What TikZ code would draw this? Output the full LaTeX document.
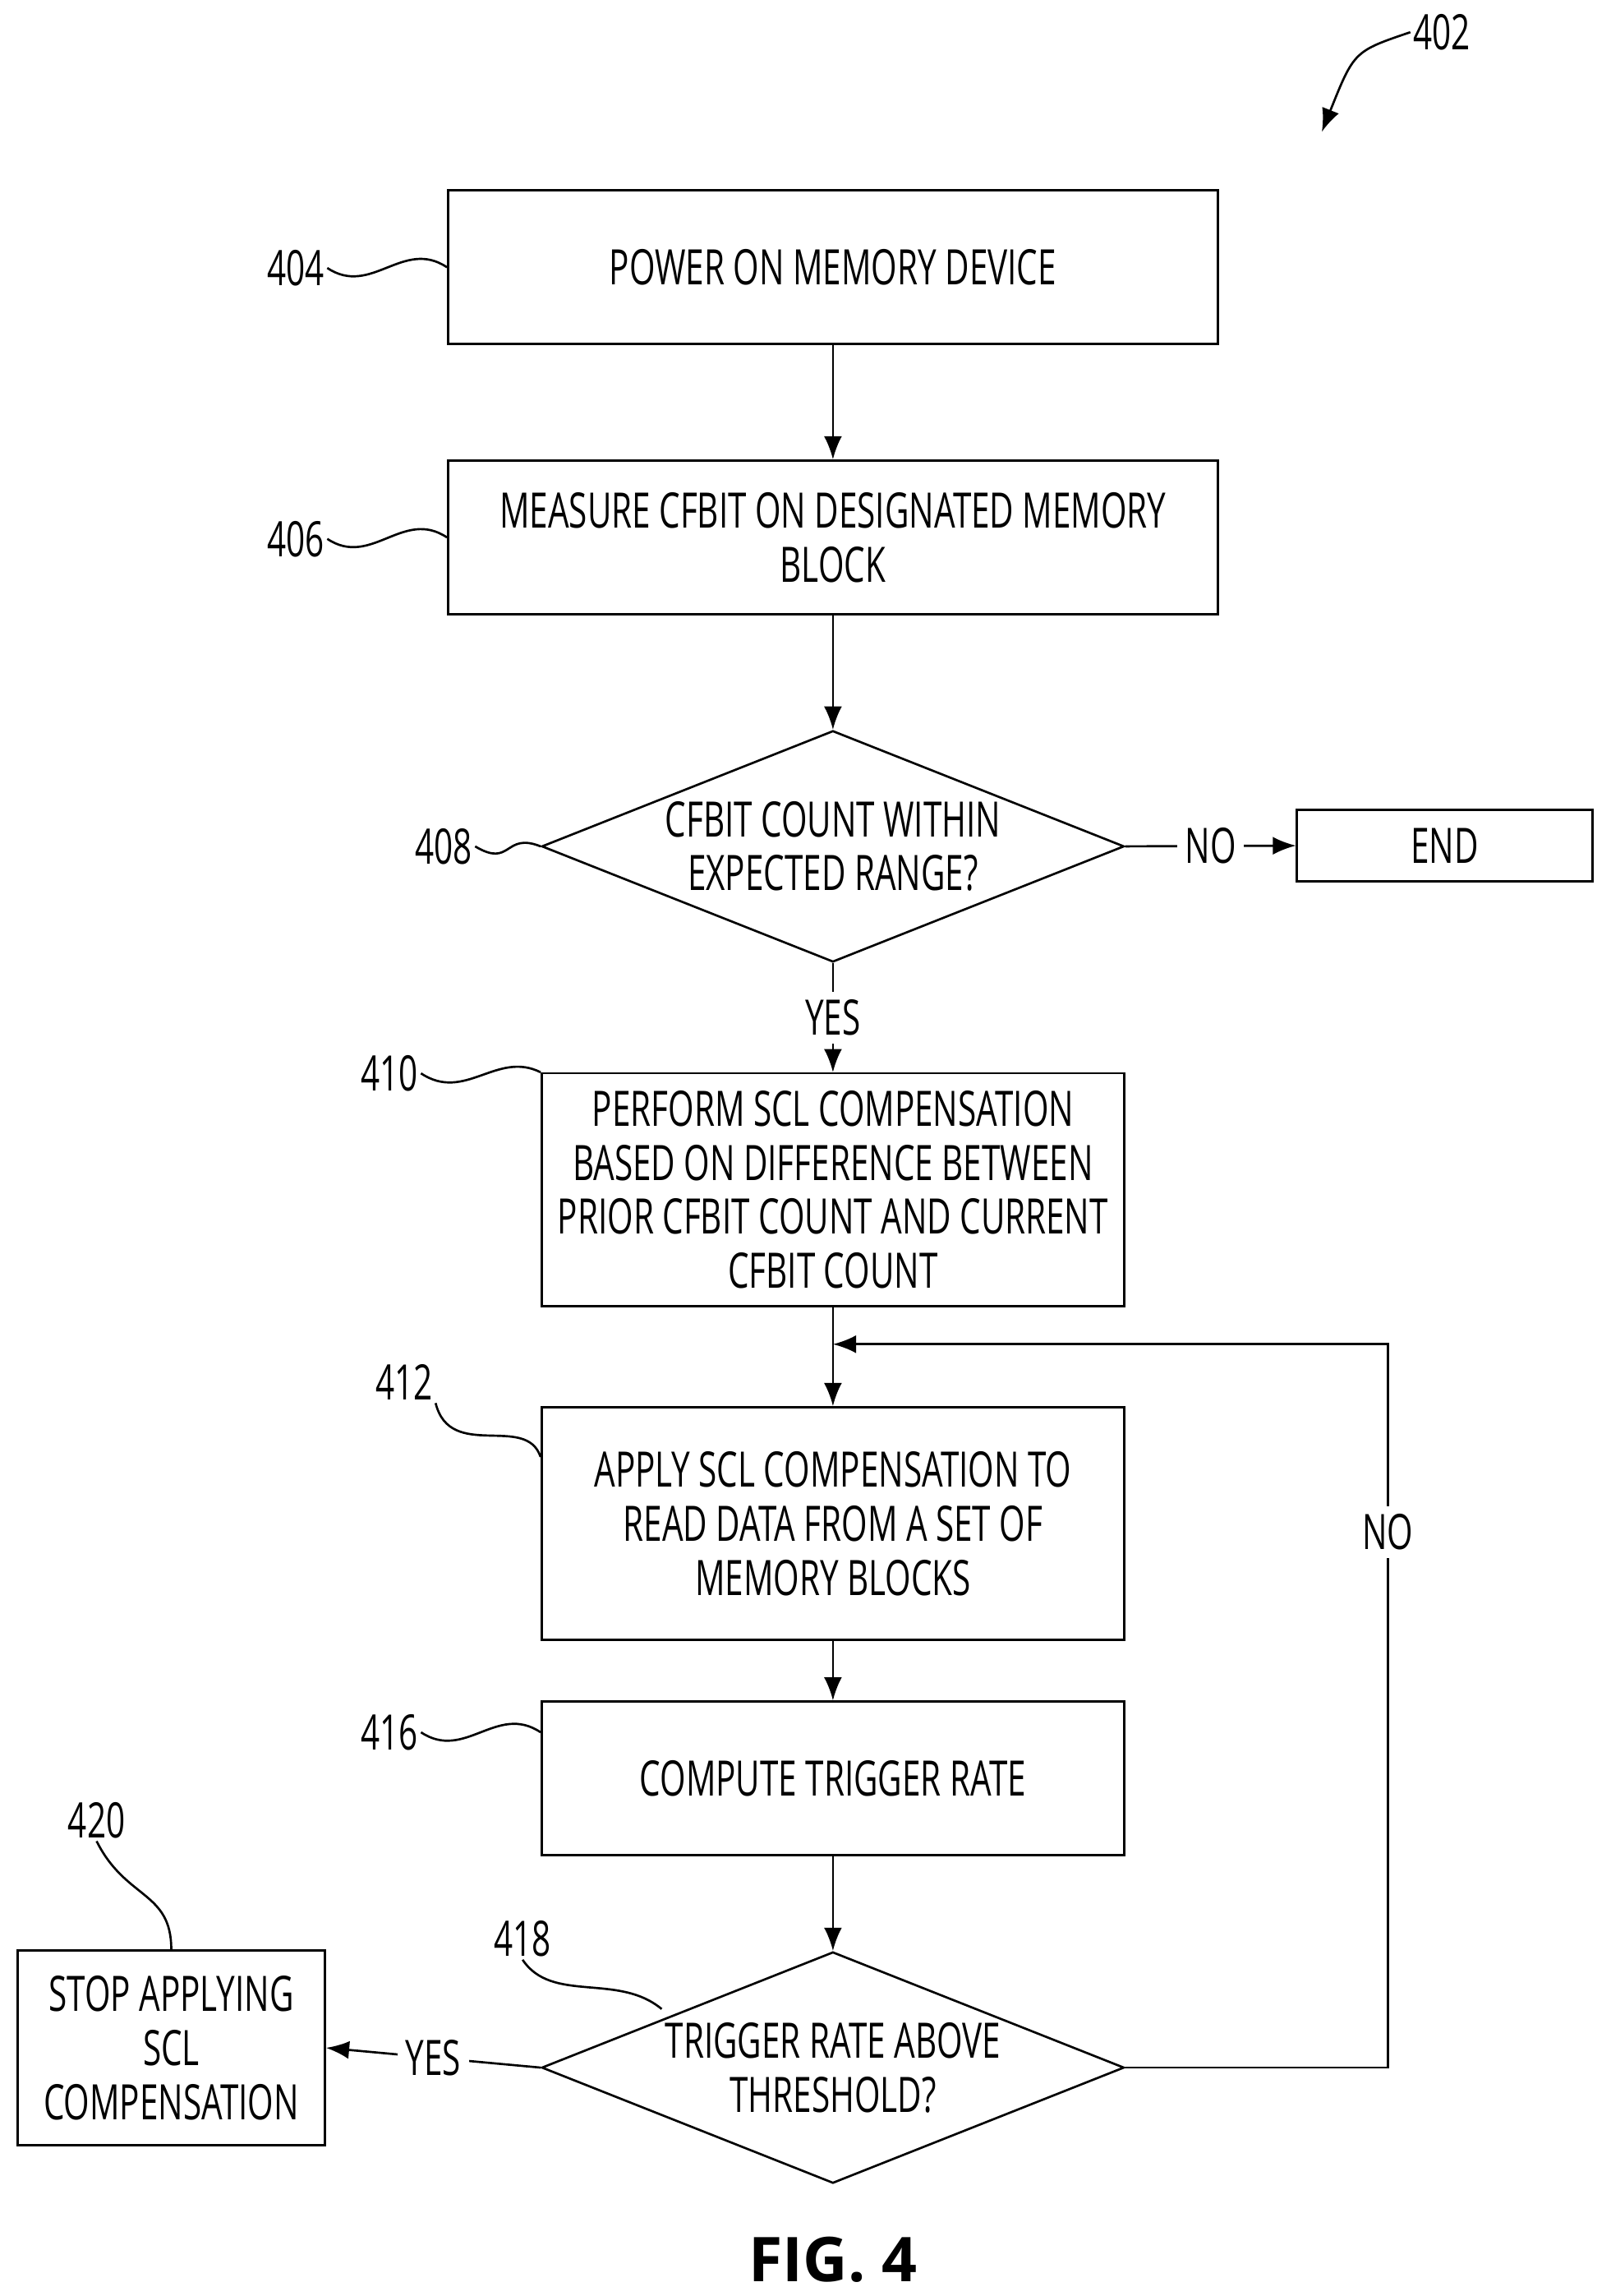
\documentclass[tikz,border=0pt]{standalone}
\usepackage{fontspec}
\setmainfont[FakeStretch=0.68]{Open Sans}
\newfontfamily\figfont{Open Sans}
\usetikzlibrary{positioning,shapes.geometric,arrows.meta}

\begin{document}
\begin{tikzpicture}[x=0.02cm,y=-0.02cm,
  		every node/.style={font=\fontsize{19}{21}\selectfont},
  		box/.style={rectangle,draw,line width=0.85pt,align=center,inner sep=2pt},
  		wide/.style={box,minimum width=10.52cm,minimum height=2.1cm},
  		mid/.style={box,minimum width=7.96cm},
  		test/.style={diamond,draw,line width=0.85pt,inner sep=0pt,
    		minimum width=7.96cm,minimum height=3.16cm},
  		ref/.style={inner sep=1pt},
  		squig/.style={line width=0.85pt},
  		arr/.style={line width=0.85pt,-{Latex[length=9pt,width=7pt]}},
  		tag/.style={fill=white,inner sep=3pt}]
    		\useasboundingbox (0,0) rectangle (1100,1568);
    		% Steps
      		\node[wide] (pwr) at (569,182.5) {POWER ON MEMORY DEVICE};
      		\node[wide] (meas) at (569,367) {MEASURE CFBIT ON DESIGNATED MEMORY\\BLOCK};
      		\node[test,label={[align=center]center:CFBIT COUNT WITHIN\\EXPECTED RANGE?}] (chk) at (569,578) {};
      		\node[box,minimum width=4.04cm,minimum height=0.98cm] (fin) at (987,577.5) {END};
      		\node[mid,minimum height=3.18cm] (comp) at (569,812.5) {PERFORM SCL COMPENSATION\\BASED ON DIFFERENCE BETWEEN\\PRIOR CFBIT COUNT AND CURRENT\\CFBIT COUNT};
      		\node[mid,minimum height=3.18cm] (apply) at (569,1040.5) {APPLY SCL COMPENSATION TO\\READ DATA FROM A SET OF\\MEMORY BLOCKS};
      		\node[mid,minimum height=2.1cm] (rate) at (569,1214.5) {COMPUTE TRIGGER RATE};
      		\node[test,label={[align=center]center:TRIGGER RATE ABOVE\\THRESHOLD?}] (thr) at (569,1412) {};
      		\node[box,minimum width=4.2cm,minimum height=2.66cm] (stop) at (117,1398.5) {STOP APPLYING\\SCL\\COMPENSATION};
    		% Connectors
      		\draw[arr] (pwr) -- (meas);
      		\draw[arr] (meas) -- (chk);
      		\draw[arr] (chk.east) -- node[tag]{NO} (fin.west);
      		\draw[arr] (chk.south) -- node[tag]{YES} (comp.north);
      		\draw[arr] (comp) -- (apply);
      		\draw[arr] (apply) -- (rate);
      		\draw[arr] (rate) -- (thr);
      		\draw[arr] (thr.west) -- node[tag]{YES} (stop.east);
      		\coordinate (join) at (569,918);
      		\draw[arr] (thr.east) -- (948,1412) |- node[tag,pos=0.37]{NO} (join);
    		% Reference numerals
      		\node[ref] (l402) at (985,22) {402};
      		\coordinate (a402) at (903,90);
      		\draw[arr] (l402.west) .. controls (925,35) .. (a402);
      		\node[ref] (l404) at (202,183) {404};
      		\draw[squig] (l404.east) .. controls +(30,20) and +(-30,-20) .. (pwr.west);
      		\node[ref] (l406) at (202,368) {406};
      		\draw[squig] (l406.east) .. controls +(30,20) and +(-30,-20) .. (meas.west);
      		\node[ref] (l408) at (303,578) {408};
      		\draw[squig] (l408.east) .. controls +(25,15) and +(-25,-10) .. (chk.west);
      		\node[ref] (l410) at (266,733) {410};
      		\draw[squig] (l410.east) .. controls +(30,20) and +(-30,-15) .. (comp.north west);
      		\node[ref] (l412) at (276,944) {412};
      		\draw[squig] (l412.south east) .. controls +(10,40) and +(-10,-30) .. (apply.west |- 0,995);
      		\node[ref] (l416) at (266,1183) {416};
      		\draw[squig] (l416.east) .. controls +(30,20) and +(-30,-20) .. (rate.west |- 0,1183);
      		\node[ref] (l418) at (357,1324) {418};
      		\draw[squig] (l418.south) .. controls +(20,30) and +(-30,-25) .. (452,1372);
      		\node[ref] (l420) at (66,1243) {420};
      		\draw[squig] (l420.south) .. controls +(20,40) and +(0,-40) .. (stop.north);
    		% Caption
      		\node (fig) at (569,1543) {\figfont\bfseries\fontsize{24}{26}\selectfont FIG. 4};
	\end{tikzpicture}
\end{document}
